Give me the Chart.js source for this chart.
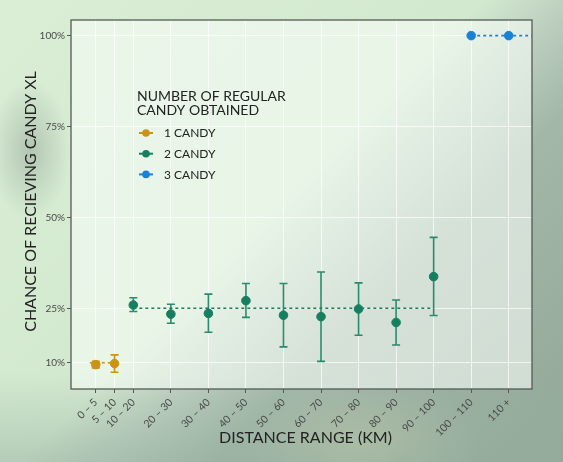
<!DOCTYPE html>
<html><head><meta charset="utf-8">
<script src="https://cdn.jsdelivr.net/npm/chart.js@4.4.0/dist/chart.umd.min.js"></script>
<style>
html,body{margin:0;padding:0;width:563px;height:462px;overflow:hidden}
body{
background:
 radial-gradient(ellipse 40px 70px at 30px 150px, rgba(110,125,118,0.35), rgba(110,125,118,0) 100%),
 radial-gradient(ellipse 120px 60px at 360px 440px, rgba(200,210,170,0.35), rgba(200,210,170,0) 100%),
 linear-gradient(to top, rgba(150,175,160,0.5) 0px, rgba(150,175,160,0) 90px),
 linear-gradient(135deg, #d9eed5 0%, #d3e9cf 47%, #bccfbf 56%, #a2b7a8 66%, #92a798 100%);
}
#wrap{position:relative;width:563px;height:462px}
</style></head><body><div id="wrap"><canvas id="c" width="563" height="462"></canvas></div>
<script>
const tickPositions = [0, 5, 10, 20, 30, 40, 50, 60, 70, 80, 90, 100, 110];
const tickLabels = ['0 – 5','5 – 10','10 – 20','20 – 30','30 – 40','40 – 50','50 – 60','60 – 70','70 – 80','80 – 90','90 – 100','100 – 110','110 +'];
const yTicks = [10, 25, 50, 75, 100];

const oneX = [0, 5];
const oneVal = [9.5, 9.8];
const oneLow = [8.6, 7.4];
const oneHigh = [10.4, 12.2];

const twoX = [10, 20, 30, 40, 50, 60, 70, 80, 90];
const twoVal = [25.9, 23.4, 23.6, 27.1, 23.1, 22.7, 24.8, 21.1, 33.7];
const twoLow = [24.1, 20.9, 18.4, 22.5, 14.4, 10.4, 17.6, 14.9, 23.0];
const twoHigh = [27.9, 26.1, 28.9, 31.8, 31.8, 35.0, 32.0, 27.3, 44.5];

const threeX = [100, 110];
const threeVal = [100, 100];

const meanOne = 10, meanTwo = 25, meanThree = 100;
const meanOneSpan = [-1.6, 6.4];
const meanTwoSpan = [10, 90];
const meanThreeSpan = [100, 125];

const seriesNames = ['1 CANDY', '2 CANDY', '3 CANDY'];
const ORANGE = '#CC9214', GREEN = '#157F5F', BLUE = '#1A82D4';
const FONT = 'Lato, "Liberation Sans", sans-serif';

const pts = (xs, vs) => xs.map((v, i) => ({x: v, y: vs[i]}));

const panelBg = {
  id: 'panelBg',
  beforeDraw(chart) {
    const {ctx, chartArea: a} = chart;
    ctx.save();
    ctx.fillStyle = 'rgba(246,251,246,0.62)';
    ctx.fillRect(a.left, a.top, a.right - a.left, a.bottom - a.top);
    ctx.restore();
  }
};

const errorBars = {
  id: 'errorBars',
  beforeDatasetsDraw(chart) {
    const {ctx, scales: {x, y}, chartArea: a} = chart;
    ctx.save();
    ctx.beginPath(); ctx.rect(a.left, a.top, a.right - a.left, a.bottom - a.top); ctx.clip();
    [[oneX, oneLow, oneHigh, ORANGE], [twoX, twoLow, twoHigh, 'rgba(21,127,95,0.9)']].forEach(([xs, lo, hi, c]) => {
      ctx.strokeStyle = c; ctx.lineWidth = 1.6;
      xs.forEach((xv, i) => {
        const px = x.getPixelForValue(xv), p1 = y.getPixelForValue(lo[i]), p2 = y.getPixelForValue(hi[i]);
        ctx.beginPath();
        ctx.moveTo(px, p1); ctx.lineTo(px, p2);
        ctx.moveTo(px - 4, p1); ctx.lineTo(px + 4, p1);
        ctx.moveTo(px - 4, p2); ctx.lineTo(px + 4, p2);
        ctx.stroke();
      });
    });
    ctx.restore();
  }
};

const decor = {
  id: 'decor',
  afterDraw(chart) {
    const {ctx, chartArea: a} = chart;
    ctx.save();
    ctx.strokeStyle = '#555a55'; ctx.lineWidth = 1.3;
    ctx.strokeRect(a.left, a.top, a.right - a.left, a.bottom - a.top);
    // axis titles
    ctx.fillStyle = '#222';
    ctx.font = '16px ' + FONT;
    ctx.textAlign = 'center'; ctx.textBaseline = 'middle';
    ctx.fillText('DISTANCE RANGE (KM)', (a.left + a.right) / 2 + 4, 438);
    ctx.save();
    ctx.translate(31, (a.top + a.bottom) / 2 - 3);
    ctx.rotate(-Math.PI / 2);
    ctx.fillText('CHANCE OF RECIEVING CANDY XL', 0, 0);
    ctx.restore();
    // legend
    ctx.textAlign = 'left';
    ctx.font = '14px ' + FONT;
    ctx.fillText('NUMBER OF REGULAR', 137, 96);
    ctx.fillText('CANDY OBTAINED', 137, 110);
    ctx.font = '12px ' + FONT;
    [ORANGE, GREEN, BLUE].forEach((c, i) => {
      const yy = 133 + i * 20.7;
      ctx.strokeStyle = c; ctx.lineWidth = 2;
      ctx.beginPath(); ctx.moveTo(139, yy); ctx.lineTo(153, yy); ctx.stroke();
      ctx.fillStyle = c;
      ctx.beginPath(); ctx.arc(146, yy, 3.8, 0, Math.PI * 2); ctx.fill();
      ctx.fillStyle = '#222';
      ctx.fillText(seriesNames[i], 164, yy + 0.5);
    });
    ctx.restore();
  }
};

const meanLine = (span, v, c) => ({
  type: 'line', data: [{x: span[0], y: v}, {x: span[1], y: v}],
  borderColor: c, borderWidth: 1.6, borderDash: [3, 3], pointRadius: 0, showLine: true, fill: false
});

new Chart(document.getElementById('c'), {
  type: 'scatter',
  data: {
    datasets: [
      meanLine(meanOneSpan, meanOne, ORANGE),
      meanLine(meanTwoSpan, meanTwo, GREEN),
      meanLine(meanThreeSpan, meanThree, BLUE),
      {label: seriesNames[0], data: pts(oneX, oneVal), backgroundColor: ORANGE, borderColor: ORANGE, pointRadius: 4.3, pointHoverRadius: 4.3},
      {label: seriesNames[1], data: pts(twoX, twoVal), backgroundColor: GREEN, borderColor: GREEN, pointRadius: 4.3, pointHoverRadius: 4.3},
      {label: seriesNames[2], data: pts(threeX, threeVal), backgroundColor: BLUE, borderColor: BLUE, pointRadius: 4.3, pointHoverRadius: 4.3}
    ]
  },
  options: {
    responsive: false, animation: false, devicePixelRatio: 1,
    layout: {padding: {top: 20, right: 31, left: 0, bottom: 0}},
    plugins: {legend: {display: false}, tooltip: {enabled: false}},
    scales: {
      x: {
        type: 'linear', min: -6.6, max: 116.2,
        afterBuildTicks: s => { s.ticks = tickPositions.map(v => ({value: v})); },
        afterFit: s => { s.height = 73; },
        ticks: {
          autoSkip: false, maxRotation: 45, minRotation: 45, padding: 3,
          color: '#4a4a4a', font: {family: FONT, size: 10.5},
          callback: v => tickLabels[tickPositions.indexOf(v)]
        },
        grid: {color: 'rgba(255,255,255,0.7)', lineWidth: 1, tickColor: '#555a55', tickLength: 4},
        border: {display: false}
      },
      y: {
        type: 'linear', min: 2.8, max: 104.3,
        afterBuildTicks: s => { s.ticks = yTicks.map(v => ({value: v})); },
        afterFit: s => { s.width = 71; },
        ticks: {
          padding: 2, color: '#4a4a4a', font: {family: FONT, size: 10},
          callback: v => v + '%'
        },
        grid: {color: 'rgba(255,255,255,0.7)', lineWidth: 1, tickColor: '#555a55', tickLength: 4},
        border: {display: false}
      }
    }
  },
  plugins: [panelBg, errorBars, decor]
});
</script></body></html>
